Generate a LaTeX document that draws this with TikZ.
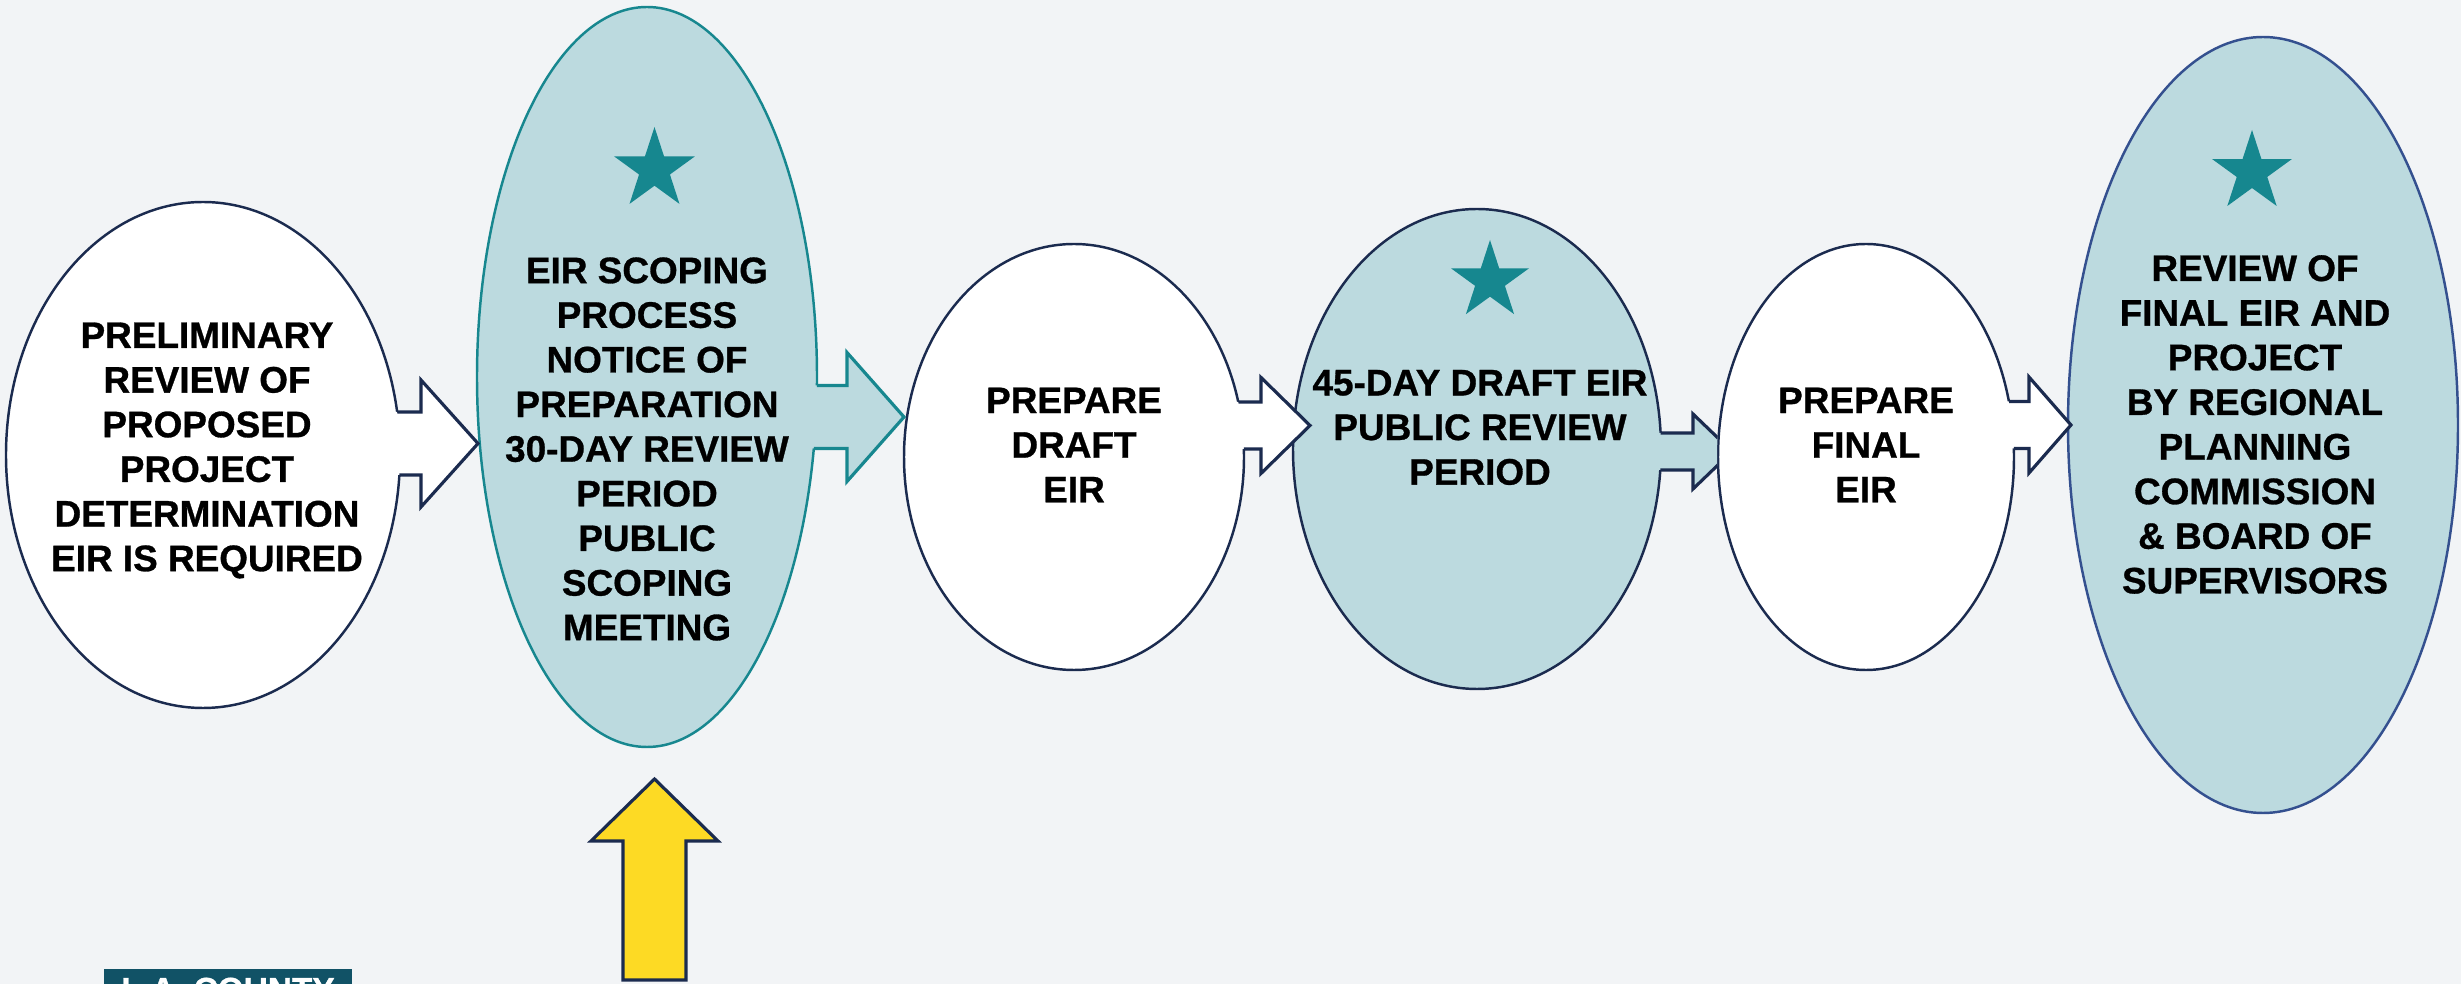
\documentclass[tikz,border=0pt]{standalone}
\usepackage{fontspec}
\setmainfont{Liberation Sans}[BoldFeatures={FakeBold=0.8}]
\usetikzlibrary{shapes.geometric,calc}

\definecolor{bgcol}{HTML}{F2F4F6}
\definecolor{navy}{HTML}{1B2B4F}
\definecolor{paleblue}{HTML}{BCDADF}
\definecolor{tealline}{HTML}{17878F}
\definecolor{starcol}{HTML}{16878F}
\definecolor{ringblue}{HTML}{34508F}
\definecolor{arrowyellow}{HTML}{FDDA24}
\definecolor{logoteal}{HTML}{115266}

% #1 from, #2 to, #3 tip shift, #4 y, #5 shaft half, #6 head half, #7 head length, #8 style
\newcommand{\blockarrow}[8]{%
  \path let \p1=(#1.center), \p2=(#2.west) in
    coordinate (bs) at (\x1,#4cm)
    coordinate (bt) at ($(\x2,#4cm)+(#3,0)$)
    coordinate (bh) at ($(\x2,#4cm)+(#3,0)+(-#7,0)$);
  \path[#8, draw=none] ([yshift=#5cm]bs) -- ([yshift=#5cm]bh) -- ([yshift=#6cm]bh) -- (bt)
    -- ([yshift=-#6cm]bh) -- ([yshift=-#5cm]bh) -- ([yshift=-#5cm]bs) -- cycle;
  \begin{scope}[even odd rule]
    \clip (-1,-1) rectangle (26,11)
      let \p1=(#1.center), \p2=(#1.east), \p3=(#1.north) in
      (\p1) ellipse ({\x2-\x1} and {\y3-\y1});
    \path[#8, fill=none] ([yshift=#5cm]bs) -- ([yshift=#5cm]bh) -- ([yshift=#6cm]bh) -- (bt)
      -- ([yshift=-#6cm]bh) -- ([yshift=-#5cm]bh) -- ([yshift=-#5cm]bs) -- cycle;
  \end{scope}}

\begin{document}
\begin{tikzpicture}[
  stage/.style={ellipse, inner sep=0pt, outer sep=0pt, line width=0.7pt},
  whitestage/.style={stage, draw=navy, fill=white},
  bluestage/.style={stage, draw=navy, fill=paleblue},
  whitearrow/.style={fill=white, draw=navy, line width=0.9pt},
  bluearrow/.style={fill=paleblue, draw=navy, line width=0.9pt},
  tealarrow/.style={fill=paleblue, draw=tealline, line width=0.9pt},
  stagetext/.style={align=center, inner sep=0pt, font=\bfseries\fontsize{10.5}{12.7}\selectfont},
  starmark/.style={star, star points=5, star point ratio=2.618, inner sep=0pt, fill=starcol}]

  \useasboundingbox (0,0) rectangle (24.61,9.84);
  \fill[bgcol] (0,0) rectangle (24.61,9.84);

  \node[whitestage, minimum width=3.94cm, minimum height=5.06cm] (pre) at (2.03,5.29) {};
  \node[bluestage, draw=tealline, minimum width=3.40cm, minimum height=7.40cm] (scp) at (6.47,6.07) {};
  \node[whitestage, minimum width=3.40cm, minimum height=4.26cm] (drf) at (10.74,5.27) {};
  \node[bluestage, minimum width=3.68cm, minimum height=4.80cm] (pub) at (14.77,5.35) {};
  \node[whitestage, minimum width=2.96cm, minimum height=4.26cm] (fin) at (18.66,5.27) {};
  \node[bluestage, draw=ringblue, minimum width=3.90cm, minimum height=7.76cm] (brd) at (22.63,5.59) {};

  \blockarrow{pre}{scp}{0.01}{5.405}{0.315}{0.635}{0.57}{whitearrow}
  \blockarrow{scp}{drf}{0}{5.67}{0.315}{0.645}{0.57}{tealarrow}
  \blockarrow{drf}{pub}{0.17}{5.585}{0.235}{0.48}{0.49}{whitearrow}
  \begin{scope}[even odd rule]
    \clip (-1,-1) rectangle (26,11) (fin.center) ellipse (1.49 and 2.14);
    \blockarrow{pub}{fin}{0.14}{5.325}{0.185}{0.375}{0.39}{bluearrow}
  \end{scope}
  \blockarrow{fin}{brd}{0.03}{5.59}{0.235}{0.48}{0.42}{whitearrow}

  \node[starmark, minimum size=0.85cm] (star1) at (6.545,8.145) {};
  \node[starmark, minimum size=0.82cm] (star2) at (14.90,7.03) {};
  \node[starmark, minimum size=0.84cm] (star3) at (22.52,8.12) {};

  \node[stagetext] (pretext) at (2.07,5.335) {PRELIMINARY\\REVIEW OF\\PROPOSED\\PROJECT\\DETERMINATION\\EIR IS REQUIRED};
  \node[stagetext] (scptext) at (6.47,5.35) {EIR SCOPING\\PROCESS\\NOTICE OF\\PREPARATION\\30-DAY REVIEW\\PERIOD\\PUBLIC\\SCOPING\\MEETING};
  \node[stagetext] (drftext) at (10.74,5.39) {PREPARE\\DRAFT\\EIR};
  \node[stagetext] (pubtext) at (14.80,5.565) {45-DAY DRAFT EIR\\PUBLIC REVIEW\\PERIOD};
  \node[stagetext] (fintext) at (18.66,5.39) {PREPARE\\FINAL\\EIR};
  \node[stagetext] (brdtext) at (22.55,5.595) {REVIEW OF\\FINAL EIR AND\\PROJECT\\BY REGIONAL\\PLANNING\\COMMISSION\\\& BOARD OF\\SUPERVISORS};

  \draw[fill=arrowyellow, draw=navy, line width=0.9pt] (6.23,0.04) -- (6.23,1.43) -- (5.91,1.43)
    -- (6.545,2.05) -- (7.18,1.43) -- (6.86,1.43) -- (6.86,0.04) -- cycle;

  \fill[logoteal] (1.04,-0.5) rectangle (3.52,0.15);
  \node[anchor=north, inner sep=0pt, text=white, font=\bfseries\fontsize{9.5}{10}\selectfont] (logo) at (2.28,0.07) {L.A. COUNTY};
\end{tikzpicture}
\end{document}
